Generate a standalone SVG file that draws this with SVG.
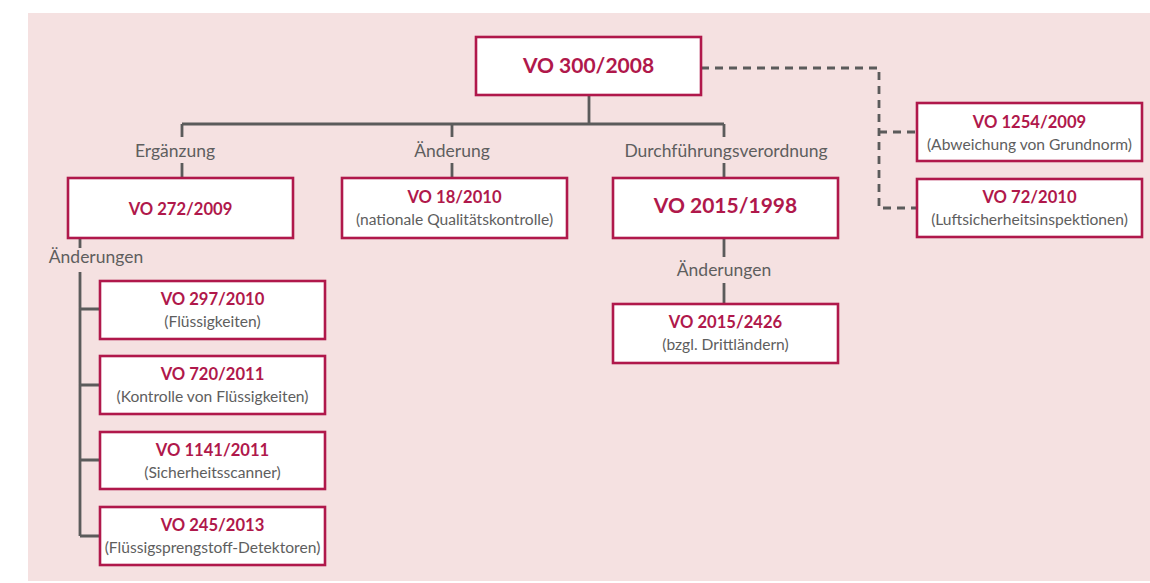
<svg xmlns="http://www.w3.org/2000/svg" width="1150" height="583" viewBox="0 0 1150 583">
<style>
.bg{fill:#f5e1e1}
.box{fill:#fff;stroke:#b0184b;stroke-width:2.6}
.ln{fill:none;stroke:#5b5b5b;stroke-width:2.8}
.dash{fill:none;stroke:#5b5b5b;stroke-width:2.8;stroke-dasharray:8 6}
.t1{font-family:Lato,"Liberation Sans",sans-serif;font-weight:bold;font-size:21px;fill:#b0184b;text-anchor:middle}
.t2{font-family:Lato,"Liberation Sans",sans-serif;font-weight:bold;font-size:16.6px;fill:#b0184b;text-anchor:middle}
.t3{font-family:Lato,"Liberation Sans",sans-serif;font-size:15.6px;fill:#5e5e5e;text-anchor:middle}
.lb{font-family:Lato,"Liberation Sans",sans-serif;font-size:17.5px;fill:#5e5e5e;text-anchor:middle}
</style>
<rect class="bg" x="28" y="13" width="1122" height="568"/>
<g id="connectors">
<path class="ln" d="M589 95V124M182 124H724M182 124V137M452 124V137M724 124V137"/>
<path class="ln" d="M182 163V178M452 163V178M724 163V178"/>
<path class="ln" d="M724 238V257M724 283V304"/>
<path class="ln" d="M80 238V248M80 272V536M80 309H100M80 385H100M80 460H100M80 536H100"/>
<path class="dash" d="M701 68H879V208H917M879 132H917"/>
<text class="lb" x="175" y="157">Ergänzung</text>
<text class="lb" x="452" y="157">Änderung</text>
<text class="lb" x="726" y="157">Durchführungsverordnung</text>
<text class="lb" x="96" y="263">Änderungen</text>
<text class="lb" x="724" y="276">Änderungen</text>
</g>
<g id="n300"><rect class="box" x="476" y="37" width="225" height="58"/><text class="t1" x="588.5" y="73">VO 300/2008</text></g>
<g id="n272"><rect class="box" x="68" y="178" width="225" height="60"/><text class="t2" x="180.5" y="215">VO 272/2009</text></g>
<g id="n18"><rect class="box" x="342" y="178" width="225" height="60"/><text class="t2" x="454.5" y="203">VO 18/2010</text><text class="t3" x="454.5" y="225">(nationale Qualitätskontrolle)</text></g>
<g id="n1998"><rect class="box" x="613" y="178" width="225" height="60"/><text class="t1" x="725.5" y="213">VO 2015/1998</text></g>
<g id="n2426"><rect class="box" x="613" y="304" width="225" height="59"/><text class="t2" x="725.5" y="328">VO 2015/2426</text><text class="t3" x="725.5" y="350">(bzgl. Drittländern)</text></g>
<g id="n1254"><rect class="box" x="917" y="103" width="225" height="58"/><text class="t2" x="1029.5" y="128">VO 1254/2009</text><text class="t3" x="1029.5" y="150">(Abweichung von Grundnorm)</text></g>
<g id="n72"><rect class="box" x="917" y="179" width="225" height="58"/><text class="t2" x="1029.5" y="203">VO 72/2010</text><text class="t3" x="1029.5" y="225">(Luftsicherheitsinspektionen)</text></g>
<g id="n297"><rect class="box" x="100" y="281" width="225" height="58"/><text class="t2" x="212.5" y="305">VO 297/2010</text><text class="t3" x="212.5" y="327">(Flüssigkeiten)</text></g>
<g id="n720"><rect class="box" x="100" y="356" width="225" height="58"/><text class="t2" x="212.5" y="380">VO 720/2011</text><text class="t3" x="212.5" y="402">(Kontrolle von Flüssigkeiten)</text></g>
<g id="n1141"><rect class="box" x="100" y="432" width="225" height="57"/><text class="t2" x="212.5" y="456">VO 1141/2011</text><text class="t3" x="212.5" y="478">(Sicherheitsscanner)</text></g>
<g id="n245"><rect class="box" x="100" y="507" width="225" height="58"/><text class="t2" x="212.5" y="531">VO 245/2013</text><text class="t3" x="212.5" y="553">(Flüssigsprengstoff-Detektoren)</text></g>
</svg>
